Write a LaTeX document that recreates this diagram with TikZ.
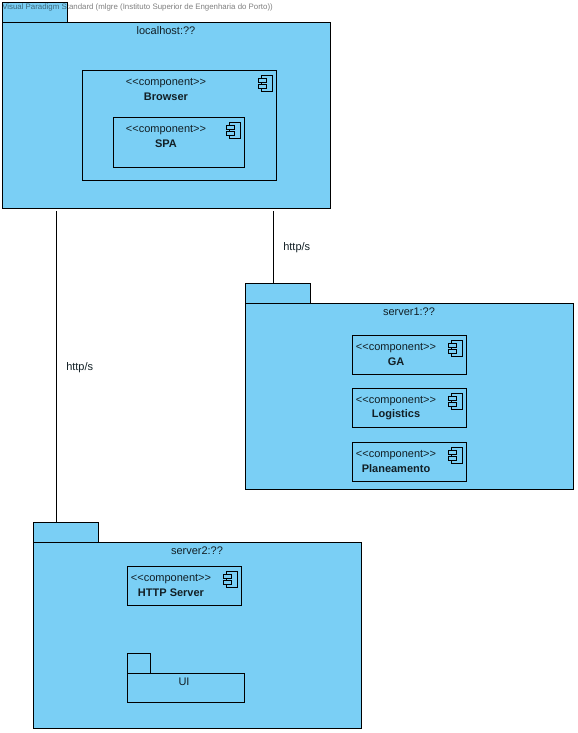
\documentclass[tikz,border=0pt]{standalone}
\usepackage{fontspec}
\setmainfont{Liberation Sans}
\definecolor{umlblue}{RGB}{122,207,245}
\tikzset{
  pkgbox/.style={draw=black, fill=umlblue, line width=0.75pt, anchor=north west, inner sep=0pt},
  compbox/.style={pkgbox, fill=none},
  iconpart/.style={draw=black, fill=umlblue, line width=0.75pt},
  txt/.style={inner sep=0pt, yshift=-1.2pt, font=\fontsize{8.25}{10}\selectfont, text=black!85!umlblue},
  bold/.style={inner sep=0pt, yshift=-0.45pt, font=\fontsize{8.25}{10}\selectfont\bfseries, text=black!85!umlblue}
}
\newcommand{\compicon}[1]{
  \draw [iconpart] ([xshift=-11.6pt,yshift=-3.8pt]#1.north east) rectangle ([xshift=-3.6pt,yshift=-15.8pt]#1.north east);
  \draw [iconpart] ([xshift=-13.6pt,yshift=-6pt]#1.north east) rectangle ([xshift=-8pt,yshift=-9pt]#1.north east);
  \draw [iconpart] ([xshift=-13.6pt,yshift=-10.5pt]#1.north east) rectangle ([xshift=-8pt,yshift=-13.5pt]#1.north east);
}
\begin{document}
\begin{tikzpicture}[x=0.75pt,y=-0.75pt]
        \useasboundingbox [fill=white] (0,0) rectangle (578,733);
        \node [pkgbox, minimum width=48.75pt, minimum height=15pt] (hosttab) at (2,2) {};
        \node [pkgbox, minimum width=246pt, minimum height=139.5pt] (localhost) at (2,22) {};
        \node [txt] (hostname) at (166,29) {localhost:??};
        \node [compbox, minimum width=145.5pt, minimum height=82.5pt] (browser) at (82,70) {};
        \node [txt] (brstereo) at (166,81) {<{}<component>{}>};
        \node [bold] (brname) at (166,96) {Browser};
        \compicon{browser}
        \node [compbox, minimum width=98.25pt, minimum height=37.5pt] (spa) at (113,117) {};
        \node [txt] (spastereo) at (166,128) {<{}<component>{}>};
        \node [bold] (spaname) at (166,143) {SPA};
        \compicon{spa}
        \node [pkgbox, minimum width=48.75pt, minimum height=15pt] (onetab) at (245,283) {};
        \node [pkgbox, minimum width=246pt, minimum height=139.5pt] (server1) at (245,303) {};
        \node [txt] (onename) at (409,310) {server1:??};
        \node [compbox, minimum width=85.5pt, minimum height=29.25pt] (ga) at (352,335) {};
        \node [txt] (gastereo) at (396,346) {<{}<component>{}>};
        \node [bold] (ganame) at (396,361) {GA};
        \compicon{ga}
        \node [compbox, minimum width=85.5pt, minimum height=29.25pt] (logistics) at (352,388) {};
        \node [txt] (logstereo) at (396,399) {<{}<component>{}>};
        \node [bold] (logname) at (396,414) {Logistics};
        \compicon{logistics}
        \node [compbox, minimum width=85.5pt, minimum height=29.25pt] (planeamento) at (352,442) {};
        \node [txt] (plastereo) at (396,453) {<{}<component>{}>};
        \node [bold] (planame) at (396,468) {Planeamento};
        \compicon{planeamento}
        \node [pkgbox, minimum width=48.75pt, minimum height=15pt] (twotab) at (33,522) {};
        \node [pkgbox, minimum width=246pt, minimum height=139.5pt] (server2) at (33,542) {};
        \node [txt] (twoname) at (197,549) {server2:??};
        \node [compbox, minimum width=85.5pt, minimum height=29.25pt] (httpserver) at (127,566) {};
        \node [txt] (httpstereo) at (171,577) {<{}<component>{}>};
        \node [bold] (httpname) at (171,592) {HTTP Server};
        \compicon{httpserver}
        \node [compbox, minimum width=17.25pt, minimum height=15pt] (uitab) at (127,653) {};
        \node [compbox, minimum width=87.75pt, minimum height=21.75pt] (ui) at (127,673) {};
        \node [txt] (uiname) at (184,680) {UI};
        \coordinate (linkone) at (273,246);
        \coordinate (linktwo) at (56,366);
        \node [txt, anchor=west] (httpone) at (283,246) {http/s};
        \node [txt, anchor=west] (httptwo) at (66,366) {http/s};
        \draw [black, line width=0.75pt, shorten <=1.5pt] (localhost.south -| linkone) -- (onetab.north -| linkone);
        \draw [black, line width=0.75pt, shorten <=1.5pt] (localhost.south -| linktwo) -- (twotab.north -| linktwo);
        \node [txt, anchor=west, text=black, opacity=0.5, font=\fontsize{5.9}{7}\selectfont] (watermark) at (2,6) {Visual Paradigm Standard (mlgre (Instituto Superior de Engenharia do Porto))};
      \end{tikzpicture}
\end{document}
